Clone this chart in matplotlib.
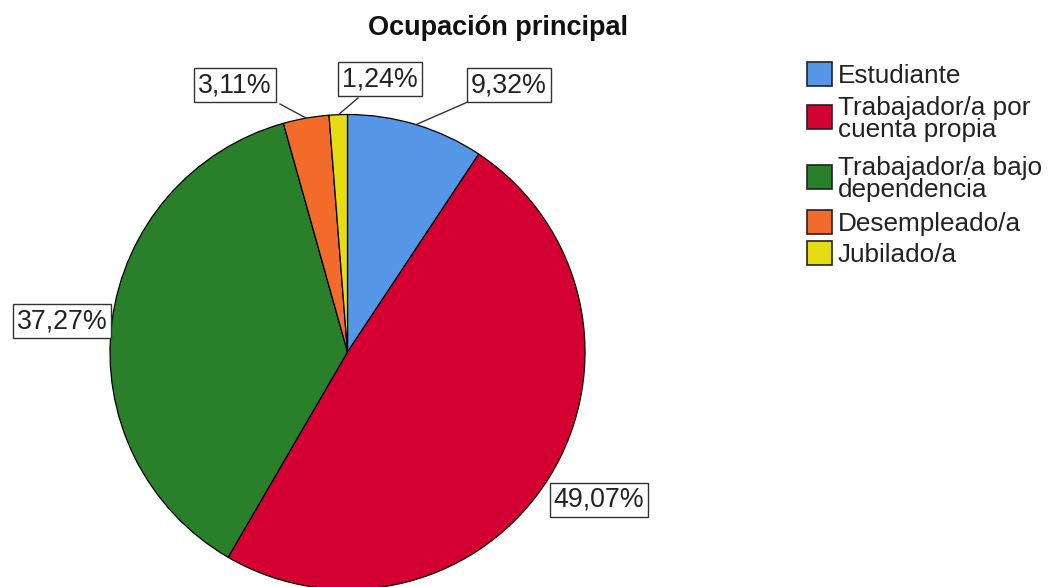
import numpy as np
import matplotlib
matplotlib.use("Agg")
import matplotlib.pyplot as plt
from matplotlib.patches import Rectangle

title = "Ocupación principal"
categories = ["Estudiante", "Trabajador/a por\ncuenta propia", "Trabajador/a bajo\ndependencia",
              "Desempleado/a", "Jubilado/a"]
values = [9.32, 49.07, 37.27, 3.11, 1.24]
labels = ["9,32%", "49,07%", "37,27%", "3,11%", "1,24%"]
colors = ["#5596E6", "#D50032", "#2A7F2A", "#F26B2A", "#E6DC14"]

W, H = 1051, 587
fig = plt.figure(figsize=(W / 100, H / 100), dpi=100)
ax = fig.add_axes([0, 0, 1, 1])

cx, cy, r = 347.5, 352, 237.5
# pie drawn in pixel coords; y axis inverted so counterclock=True looks clockwise
wedges, _ = ax.pie(values, colors=colors, startangle=-90, counterclock=True,
                   center=(cx, cy), radius=r, frame=True,
                   wedgeprops=dict(edgecolor="black", linewidth=0.9))
ax.set_xlim(0, W)
ax.set_ylim(H, 0)
ax.set_aspect("equal")
ax.axis("off")

font = "Liberation Sans"
# label box centers (layout)
box_pos = [(509, 85), (599, 500), (62, 321), (235, 85), (380, 79)]
line_end = [(470, 101), None, None, (280, 104), (358, 98)]
cum = 0
for i, (v, lab) in enumerate(zip(values, labels)):
    mid = 90 - (cum + v / 2) / 100 * 360
    cum += v
    px = cx + r * np.cos(np.radians(mid))
    py = cy - r * np.sin(np.radians(mid))
    if line_end[i] is not None:
        ax.plot([px, line_end[i][0]], [py, line_end[i][1]], color="#333333", lw=1.0, zorder=3)
    bx, by = box_pos[i]
    ax.text(bx, by, lab, ha="center", va="center", fontsize=19.3, family=font,
            color="#222222", zorder=5,
            bbox=dict(boxstyle="square,pad=0.14", fc="white", ec="#333333", lw=1.0))

ax.text(498, 28, title, ha="center", va="center", fontsize=19.5, fontweight="bold",
        family=font, color="#111111")

leg_y = [74, 117, 177, 222, 253]
for yy, cat, col in zip(leg_y, categories, colors):
    ax.add_patch(Rectangle((807, yy - 12), 25, 24, fc=col, ec="#222222", lw=1.2))
    ax.text(838, yy + 2, cat, ha="left", va="center", fontsize=18.8, family=font,
            color="#222222", linespacing=0.85)

fig.savefig("out.png", dpi=100)
